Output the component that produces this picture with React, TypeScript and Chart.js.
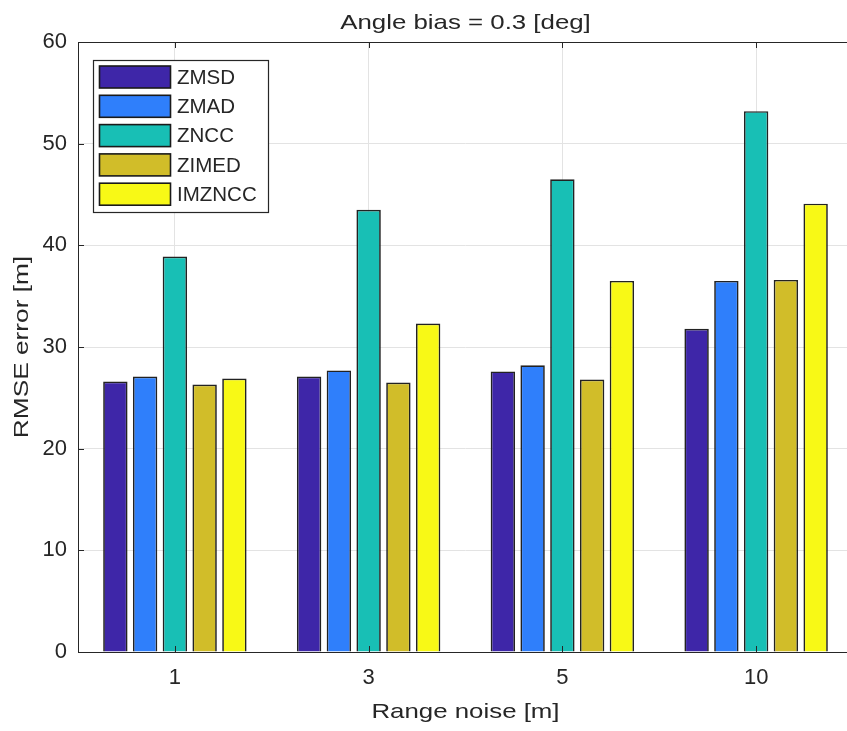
import React, { useEffect, useRef } from "react";
import { Chart, registerables } from "chart.js";

Chart.register(...registerables);

const categories = ["1", "3", "5", "10"];
const seriesNames = ["ZMSD", "ZMAD", "ZNCC", "ZIMED", "IMZNCC"];
const zmsd = [26.6, 27.1, 27.6, 31.8];
const zmad = [27.1, 27.7, 28.2, 36.5];
const zncc = [38.9, 43.5, 46.5, 53.2];
const zimed = [26.3, 26.5, 26.8, 36.6];
const imzncc = [26.9, 32.3, 36.5, 44.1];
const seriesColors = ["#3e26a8", "#2f7ffb", "#18bfb5", "#d1bd29", "#f8f916"];
const yTicks = [0, 10, 20, 30, 40, 50, 60];

const titleText = "Angle bias = 0.3 [deg]";
const xTitle = "Range noise [m]";
const yTitle = "RMSE error [m]";

const FONT = '"Liberation Sans", Arial, Helvetica, sans-serif';
const INK = "#262626";

function stretchedText(
  ctx: CanvasRenderingContext2D,
  text: string,
  x: number,
  y: number,
  sx: number,
  rotate: boolean
) {
  ctx.save();
  ctx.translate(x, y);
  if (rotate) ctx.rotate(-Math.PI / 2);
  ctx.scale(sx, 1);
  ctx.font = `21px ${FONT}`;
  ctx.fillStyle = INK;
  ctx.textAlign = "center";
  ctx.textBaseline = "alphabetic";
  ctx.fillText(text, 0, 0);
  ctx.restore();
}

const chromePlugin = {
  id: "matlabChrome",
  afterDatasetsDraw(chart: any) {
    const { ctx, chartArea } = chart;
    const { left, right, top, bottom } = chartArea;
    const xs = chart.scales.x;
    const ys = chart.scales.y;
    const tl = 6;
    ctx.save();
    ctx.strokeStyle = INK;
    ctx.lineWidth = 1;
    ctx.beginPath();
    yTicks.forEach((v) => {
      const y = Math.round(ys.getPixelForValue(v)) + 0.5;
      ctx.moveTo(left, y);
      ctx.lineTo(left + tl, y);
      ctx.moveTo(right, y);
      ctx.lineTo(right - tl, y);
    });
    categories.forEach((_, i) => {
      const x = Math.round(xs.getPixelForValue(i)) + 0.5;
      ctx.moveTo(x, bottom);
      ctx.lineTo(x, bottom - tl);
      ctx.moveTo(x, top);
      ctx.lineTo(x, top + tl);
    });
    ctx.stroke();
    ctx.beginPath();
    ctx.rect(Math.round(left) + 0.5, Math.round(top) + 0.5, Math.round(right - left), Math.round(bottom - top));
    ctx.stroke();
    ctx.restore();
  },
  afterDraw(chart: any) {
    const { ctx, chartArea } = chart;
    const cx = (chartArea.left + chartArea.right) / 2;
    const cy = (chartArea.top + chartArea.bottom) / 2;
    stretchedText(ctx, titleText, cx, 29, 1.23, false);
    stretchedText(ctx, xTitle, cx, 718, 1.23, false);
    stretchedText(ctx, yTitle, 28, cy, 1.25, true);

    // legend
    const lx = 93.5, ly = 60.5, lw = 175, lh = 152;
    ctx.save();
    ctx.fillStyle = "#ffffff";
    ctx.fillRect(lx, ly, lw, lh);
    ctx.strokeStyle = INK;
    ctx.lineWidth = 1.2;
    ctx.strokeRect(lx, ly, lw, lh);
    ctx.font = `20.5px ${FONT}`;
    ctx.textBaseline = "middle";
    ctx.textAlign = "left";
    chart.data.datasets.forEach((ds: any, i: number) => {
      const sy = 66 + i * 29.3;
      ctx.fillStyle = ds.backgroundColor;
      ctx.fillRect(99.5, sy, 71, 22);
      ctx.strokeStyle = "#1a1a1a";
      ctx.lineWidth = 1.6;
      ctx.strokeRect(99.5, sy, 71, 22);
      ctx.fillStyle = INK;
      ctx.fillText(ds.label, 177, sy + 12);
    });
    ctx.restore();
  },
};

export default function App() {
  const ref = useRef<HTMLCanvasElement | null>(null);
  useEffect(() => {
    if (!ref.current) return;
    const values = [zmsd, zmad, zncc, zimed, imzncc];
    const chart = new Chart(ref.current, {
      type: "bar",
      data: {
        labels: categories,
        datasets: seriesNames.map((name, i) => ({
          label: name,
          data: values[i],
          backgroundColor: seriesColors[i],
          borderColor: "#222222",
          borderWidth: 1.7,
          categoryPercentage: 0.768,
          barPercentage: 0.82,
        })),
      },
      options: {
        animation: false,
        responsive: false,
        layout: { padding: { left: 0, top: 42, right: 27, bottom: 0 } },
        plugins: {
          legend: { display: false },
          title: { display: false },
          tooltip: { enabled: false },
        },
        scales: {
          x: {
            grid: { display: true, offset: false, color: "#e3e3e3", drawTicks: false },
            border: { display: false },
            ticks: {
              font: { size: 22, family: FONT },
              color: INK,
              padding: 13,
            },
            afterFit(scale: any) {
              scale.height = 79;
            },
          },
          y: {
            min: 0,
            max: 60,
            grid: { color: "#e3e3e3", drawTicks: false },
            border: { display: false },
            ticks: {
              stepSize: 10,
              font: { size: 22, family: FONT },
              color: INK,
              padding: 11,
            },
            afterFit(scale: any) {
              scale.width = 78;
            },
          },
        },
      },
      plugins: [chromePlugin],
    });
    return () => chart.destroy();
  }, []);
  return (
    <div style={{ position: "fixed", left: 0, top: 0, width: 847, height: 731, overflow: "hidden", background: "#fff" }}>
      <canvas ref={ref} width={880} height={731} style={{ display: "block" }} />
    </div>
  );
}
